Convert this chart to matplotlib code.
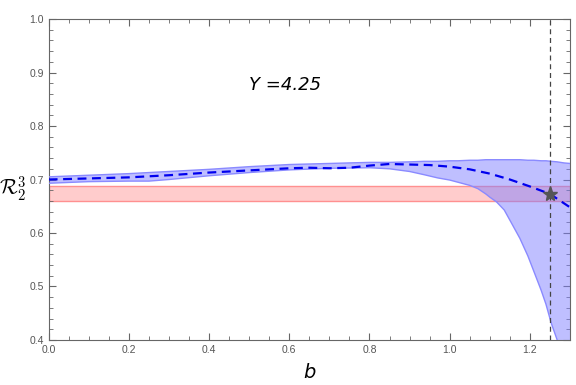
import numpy as np
import matplotlib.pyplot as plt
from matplotlib.ticker import MultipleLocator

# band of R_2^3 versus b
b_band = [0.0, 0.1, 0.2, 0.25, 0.3, 0.4, 0.5, 0.6, 0.7, 0.8, 0.85, 0.9, 0.936, 0.97, 1.0,
          1.02, 1.05, 1.07, 1.09, 1.1, 1.117, 1.136, 1.153, 1.175, 1.195, 1.21, 1.228,
          1.24, 1.253, 1.268, 1.285, 1.3]
upper = [0.705, 0.708, 0.711, 0.713, 0.715, 0.719, 0.724, 0.728, 0.730, 0.732, 0.732, 0.733, 0.734, 0.734, 0.735,
         0.735, 0.736, 0.736, 0.737, 0.737, 0.737, 0.737, 0.737, 0.737, 0.736, 0.736, 0.735,
         0.735, 0.734, 0.733, 0.731, 0.730]
lower = [0.693, 0.696, 0.697, 0.697, 0.700, 0.707, 0.713, 0.718, 0.721, 0.722, 0.720, 0.715, 0.709, 0.703, 0.699,
         0.695, 0.689, 0.683, 0.673, 0.667, 0.658, 0.643, 0.620, 0.590, 0.557, 0.528, 0.493,
         0.467, 0.432, 0.400, 0.360, 0.320]

# central (dashed) curve
b_mid = [0.0, 0.1, 0.2, 0.3, 0.4, 0.5, 0.6, 0.65, 0.7, 0.75, 0.8, 0.85, 0.9, 0.95, 1.0,
         1.05, 1.1, 1.15, 1.2, 1.25, 1.3]
mid = [0.700, 0.702, 0.704, 0.708, 0.713, 0.717, 0.721, 0.722, 0.721, 0.722, 0.726, 0.729, 0.728, 0.727, 0.724,
       0.719, 0.711, 0.700, 0.687, 0.673, 0.648]

# experimental band (red)
exp_lo, exp_hi = 0.659, 0.687
b_star, r_star = 1.25, 0.673
Y = 4.25

plt.rcParams['font.family'] = ['Liberation Sans', 'DejaVu Sans']
plt.rcParams['mathtext.fontset'] = 'cm'

fig = plt.figure(figsize=(5.76, 3.85), dpi=100)
ax = fig.add_axes([0.0845, 0.1169, 0.9051, 0.8337])

ax.axhspan(exp_lo, exp_hi, facecolor='#ffcccc', edgecolor='#ff9090', lw=1.0, zorder=1)
ax.fill_between(b_band, lower, upper, facecolor='#8080ff', alpha=0.5, edgecolor='none', zorder=2)
ax.plot(b_band, upper, color='#8a8aff', lw=1.0, zorder=3)
ax.plot(b_band, lower, color='#8a8aff', lw=1.0, zorder=3)
ax.plot(b_mid, mid, color='#0000ee', lw=1.6, ls=(0, (4, 2.5)), zorder=4)
ax.axvline(b_star, color='#444444', lw=0.9, ls=(0, (4, 3)), zorder=4)
ax.plot([b_star], [r_star], marker='*', ms=11, color='#555555', mec='#555555', zorder=5)

ax.text(0.59, 0.877, 'Y =%.2f' % Y, ha='center', va='center',
        fontsize=13, style='italic', family='DejaVu Sans')

ax.set_xlim(0, 1.3)
ax.set_ylim(0.4, 1.0)
ax.xaxis.set_major_locator(MultipleLocator(0.2))
ax.xaxis.set_minor_locator(MultipleLocator(0.05))
ax.yaxis.set_major_locator(MultipleLocator(0.1))
ax.yaxis.set_minor_locator(MultipleLocator(0.02))
ax.tick_params(which='both', direction='in', top=True, right=True, color='#666666',
               labelcolor='#555555', labelsize=7.5)
ax.tick_params(which='major', length=5)
ax.tick_params(which='minor', length=3)
for s in ax.spines.values():
    s.set_color('#666666')

ax.set_xlabel('b', fontsize=14, style='italic', family='DejaVu Sans', labelpad=6)
ax.set_ylabel(r'$\mathcal{R}_2^3$', fontsize=15, rotation=0, ha='center', va='center')
ax.yaxis.set_label_coords(-0.07, 0.47)

fig.savefig('out.png', dpi=100)
